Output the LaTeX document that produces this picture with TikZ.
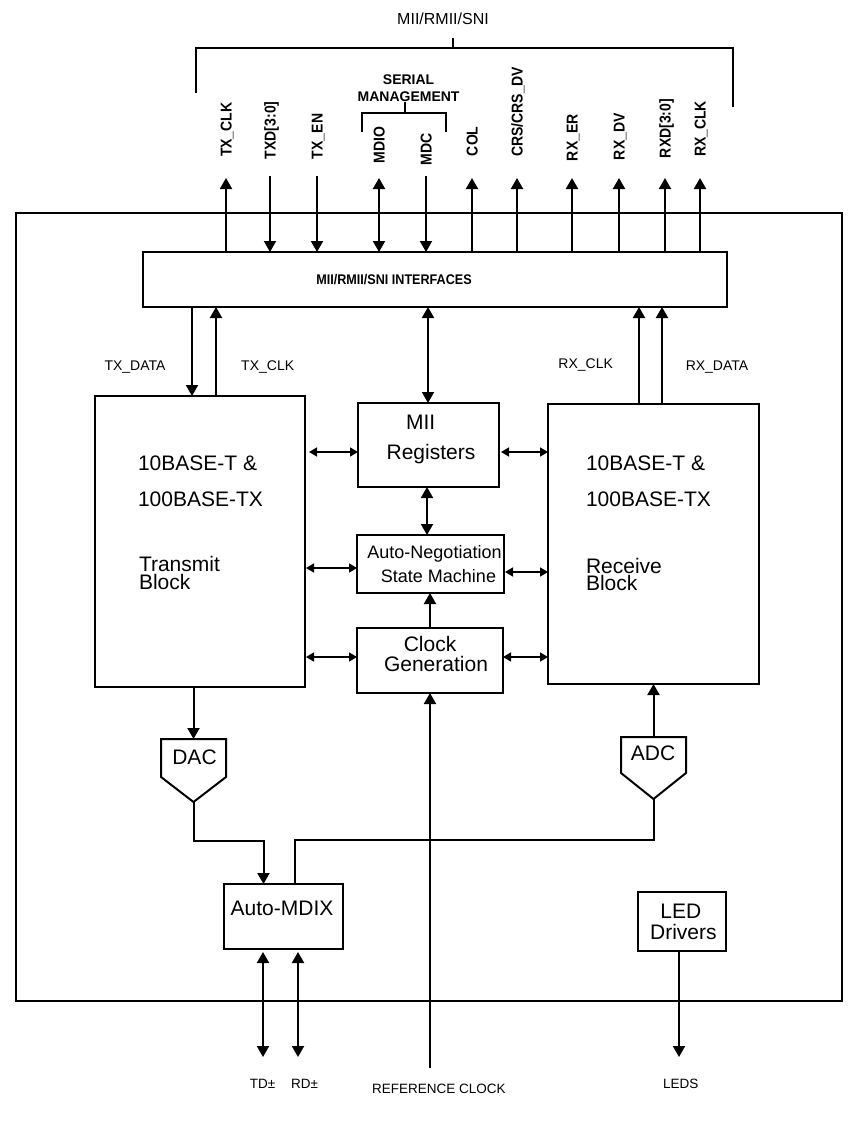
\documentclass[tikz,border=0pt]{standalone}
\usepackage{fontspec}
\setmainfont{Liberation Sans}
\usepackage{graphicx}
\usetikzlibrary{arrows.meta}
\newcommand\vlabtext[1]{\scalebox{1}[1.12]{#1}}
\begin{document}
\begin{tikzpicture}[x=1pt,y=-1pt,
 box/.style={draw, line width=2pt, inner sep=0pt, outer sep=0pt},
 sig/.style={line width=2pt},
 big/.style={-{Triangle[width=12pt,length=11pt]}},
 bigb/.style={{Triangle[width=12pt,length=11pt]}-{Triangle[width=12pt,length=11pt]}},
 sm/.style={line width=1.6pt,{Triangle[width=9pt,length=8pt]}-{Triangle[width=9pt,length=8pt]}},
 txt/.style={inner sep=0pt, outer sep=0pt, text depth=0pt},
 f21/.style={txt, font=\fontsize{21}{24}\selectfont, text height=15pt},
 f18/.style={txt, font=\fontsize{18}{21}\selectfont, text height=12.9pt},
 f16/.style={txt, font=\fontsize{16}{19}\selectfont, text height=11.5pt},
 f14/.style={txt, font=\fontsize{14}{17}\selectfont, text height=10pt},
 f13/.style={txt, font=\fontsize{13.5}{16}\selectfont, text height=9.7pt},
 fb/.style={txt, font=\bfseries\fontsize{14}{17}\selectfont, text height=10pt},
 vlab/.style={txt, font=\bfseries\fontsize{14}{17}\selectfont, text height=11.2pt, rotate=90, anchor=west},
]
\fill[white] (0,0) rectangle (864,1121);
\useasboundingbox (0,0) rectangle (864,1121);

% ---- boxes
\node[box, minimum width=826pt, minimum height=788pt] (chip) at (429,607) {};
\node[box, minimum width=584pt, minimum height=55pt] (iface) at (435,279.5) {};
\node[box, minimum width=210pt, minimum height=291pt] (tx) at (200,541.5) {};
\node[box, minimum width=141pt, minimum height=84pt] (mii) at (428.5,445) {};
\node[box, minimum width=147pt, minimum height=58pt] (an) at (430.5,564) {};
\node[box, minimum width=146pt, minimum height=65pt] (clk) at (430,660.5) {};
\node[box, minimum width=211pt, minimum height=280pt] (rx) at (653.5,544) {};
\node[box, minimum width=119pt, minimum height=65pt] (mdix) at (283.5,916.5) {};
\node[box, minimum width=88pt, minimum height=59pt] (led) at (682,921.5) {};

% ---- texts in boxes
\node[fb] (ifacelbl) at (394,279) {\scalebox{0.9}[1]{MII/RMII/SNI INTERFACES}};
\node[f21, anchor=west] (tx1) at (138,463) {10BASE-T \&};
\node[f21, anchor=west] (tx2) at (138,499) {100BASE-TX};
\node[f21, anchor=west] (tx3) at (139,564) {Transmit};
\node[f21, anchor=west] (tx4) at (139,582) {Block};
\node[f21, anchor=west] (rx1) at (586,463) {10BASE-T \&};
\node[f21, anchor=west] (rx2) at (586,499) {100BASE-TX};
\node[f21, anchor=west] (rx3) at (586,566) {Receive};
\node[f21, anchor=west] (rx4) at (586,583) {Block};
\node[f21] (mii1) at (420.6,421.7) {MII};
\node[f21] (mii2) at (431,452) {Registers};
\node[f18] (an1) at (434.5,551.7) {Auto-Negotiation};
\node[f18] (an2) at (438.5,575.7) {State Machine};
\node[f21] (clk1) at (430,644) {Clock};
\node[f21] (clk2) at (436,664) {Generation};
\node[f21] (mdixl) at (282,908.3) {Auto-MDIX};
\node[f21] (led1) at (680.8,910.7) {LED};
\node[f21] (led2) at (683.4,932) {Drivers};

% ---- DAC / ADC
\draw[line width=2pt] (161,739) -- (226,739) -- (226,777) -- (193.5,802) -- (161,777) -- cycle;
\node[f21] (dac) at (194.5,757) {DAC};
\coordinate (dacT) at (193.5,739);
\coordinate (dacB) at (193.5,802);
\draw[line width=2pt] (621,737) -- (686,737) -- (686,773) -- (653.5,799) -- (621,773) -- cycle;
\node[f21] (adc) at (653,753.3) {ADC};
\coordinate (adcT) at (653.5,737);
\coordinate (adcB) at (653.5,799);

% ---- top header
\node[f16] (mii_top) at (443,19) {MII/RMII/SNI};
\draw[line width=2pt] (195.5,93) -- (195.5,47.7) -- (733,47.7) -- (733,107);
\draw[line width=2pt] (453,37.7) -- (453,47.7);
\node[fb] (ser1) at (408.6,80) {SERIAL};
\node[fb] (ser2) at (408.6,97) {MANAGEMENT};
\draw[line width=2pt] (362,131.7) -- (362,112.7) -- (446,112.7) -- (446,131.7);
\draw[line width=2pt] (405,101.7) -- (405,112.7);

\node[vlab] (lTXCLK) at (226,157) {\vlabtext{TX\_CLK}};
\node[vlab] (lTXD) at (270,159) {\vlabtext{TXD[3:0]}};
\node[vlab] (lTXEN) at (317,159) {\vlabtext{TX\_EN}};
\node[vlab] (lMDIO) at (379,163) {\vlabtext{MDIO}};
\node[vlab] (lMDC) at (426,165) {\vlabtext{MDC}};
\node[vlab] (lCOL) at (472,156) {\vlabtext{COL}};
\node[vlab] (lCRS) at (517,157) {\vlabtext{CRS/CRS\_DV}};
\node[vlab] (lRXER) at (572,161) {\vlabtext{RX\_ER}};
\node[vlab] (lRXDV) at (619,160) {\vlabtext{RX\_DV}};
\node[vlab] (lRXD) at (665,158) {\vlabtext{RXD[3:0]}};
\node[vlab] (lRXCLK) at (700,157) {\vlabtext{RX\_CLK}};

% ---- top signal arrows
\foreach \x in {226,472,517,572,619,665,700} {
  \coordinate (u\x) at (\x,178);
  \draw[sig,big] (iface.north -| u\x) -- (u\x);
}
\foreach \x in {270,317,426} {
  \coordinate (d\x) at (\x,176);
  \draw[sig,big] (d\x) -- (iface.north -| d\x);
}
\coordinate (mdio) at (379,178);
\draw[sig,bigb] (iface.north -| mdio) -- (mdio);

% ---- interface <-> blocks
\coordinate (xTXD) at (192,0);
\coordinate (xTXC) at (216,0);
\coordinate (xRXC) at (639,0);
\coordinate (xRXD) at (662,0);
\coordinate (xM) at (428,0);
\coordinate (xM2) at (427,0);
\coordinate (xC) at (430,0);
\draw[sig,big] (iface.south -| xTXD) -- (tx.north -| xTXD);
\draw[sig,big] (tx.north -| xTXC) -- (iface.south -| xTXC);
\draw[sig,big] (rx.north -| xRXC) -- (iface.south -| xRXC);
\draw[sig,big] (rx.north -| xRXD) -- (iface.south -| xRXD);
\draw[sig,bigb] (iface.south -| xM) -- (mii.north -| xM);
\draw[sig,bigb] (mii.south -| xM2) -- (an.north -| xM2);
\draw[sig,big] (clk.north -| xC) -- (an.south -| xC);

\node[f14] (lTXDATA) at (135,365) {TX\_DATA};
\node[f14] (lTXCLK2) at (267.7,365) {TX\_CLK};
\node[f14] (lRXCLK2) at (585.7,363) {RX\_CLK};
\node[f14] (lRXDATA) at (717,365) {RX\_DATA};

% ---- horizontal block arrows
\coordinate (h1) at (0,452);
\coordinate (h2) at (0,568);
\coordinate (h3) at (0,572);
\coordinate (h4) at (0,657);
\draw[sm, shorten <=4pt] (tx.east |- h1) -- (mii.west |- h1);
\draw[sm, shorten <=2pt] (mii.east |- h1) -- (rx.west |- h1);
\draw[sm, shorten <=1pt] (tx.east |- h2) -- (an.west |- h2);
\draw[sm, shorten <=1pt] (an.east |- h3) -- (rx.west |- h3);
\draw[sm, shorten <=1pt] (tx.east |- h4) -- (clk.west |- h4);
\draw[sm] (clk.east |- h4) -- (rx.west |- h4);

% ---- DAC / ADC connections
\coordinate (j1) at (193.5,841);
\coordinate (mx1) at (263.5,0);
\coordinate (j2) at (653.5,840);
\coordinate (mx2) at (295,0);
\draw[sig,big] (tx.south -| dacT) -- (dacT);
\draw[sig,big] (dacB) -- (j1) -| (mdix.north -| mx1);
\draw[sig,big] (adcT) -- (rx.south -| adcT);
\draw[sig] (adcB) -- (j2) -| (mdix.north -| mx2);

% ---- bottom
\coordinate (refend) at (430,1068);
\draw[sig,big] (refend) -- (clk.south -| refend);
\coordinate (tdend) at (263,1057);
\coordinate (rdend) at (298,1057);
\coordinate (ledend) at (679,1057);
\draw[sig,bigb, shorten <=3pt] (mdix.south -| tdend) -- (tdend);
\draw[sig,bigb, shorten <=3pt] (mdix.south -| rdend) -- (rdend);
\draw[sig,big] (led.south -| ledend) -- (ledend);

\node[f13] (lTD) at (262.5,1084) {TD±};
\node[f13] (lRD) at (304.6,1084) {RD±};
\node[f13] (lREF) at (439,1089) {REFERENCE CLOCK};
\node[f13] (lLEDS) at (680.8,1084) {LEDS};
\end{tikzpicture}
\end{document}
